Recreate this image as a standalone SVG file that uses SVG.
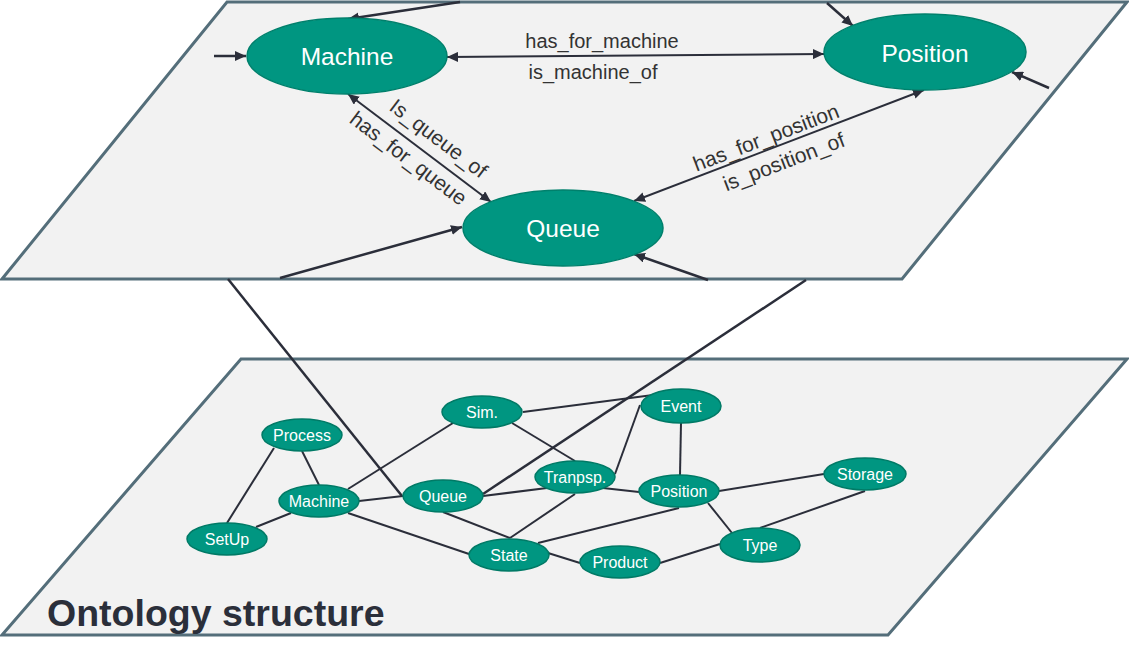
<svg xmlns="http://www.w3.org/2000/svg" width="1129" height="659" viewBox="0 0 1129 659">
<defs>
<style>
.plane{fill:#f2f2f2;stroke:#546e7a;stroke-width:3;stroke-linejoin:miter}
.big{fill:#009681;stroke:#00806c;stroke-width:1.5}
.small{fill:#009681;stroke:#007a66;stroke-width:1.5}
.bt{font-family:"Liberation Sans",Arial,sans-serif;font-size:24.5px;fill:#ffffff;text-anchor:middle}
.st{font-family:"Liberation Sans",Arial,sans-serif;font-size:16px;fill:#ffffff;text-anchor:middle}
.lbl{font-family:"Liberation Sans",Arial,sans-serif;font-size:20px;fill:#333333;text-anchor:middle}
.rl{font-size:21px}
.e{stroke:#2b2e3a;stroke-width:2;fill:none}
.a{stroke:#2b2e3a;stroke-width:2.5;fill:none;marker-end:url(#ah)}
.bi{stroke:#2b2e3a;stroke-width:2;fill:none;marker-start:url(#ah);marker-end:url(#ah)}
.x{stroke:#2b2e3a;stroke-width:2.5;fill:none}
.title{font-family:"Liberation Sans",Arial,sans-serif;font-size:37.5px;font-weight:bold;fill:#2b2f3a}
</style>
<marker id="ah" markerUnits="userSpaceOnUse" markerWidth="12" markerHeight="10" refX="11" refY="5" orient="auto-start-reverse">
<path d="M0,0 L11,5 L0,10 z" fill="#2b2e3a"/>
</marker>
</defs>

<g id="top-plane">
<polygon class="plane" points="227,2 1127,2 902,279 2,279"/>
</g>
<g id="bottom-plane">
<polygon class="plane" points="241,359 1127,359 888,635 2,635"/>
<text class="title" x="47" y="626">Ontology structure</text>
</g>

<g id="connectors">
<line class="x" x1="228" y1="279" x2="402" y2="496"/>
<line class="x" x1="806" y1="280" x2="483" y2="494"/>
<line class="e" x1="274" y1="448" x2="227" y2="523"/>
<line class="e" x1="302" y1="451" x2="319" y2="485"/>
<line class="e" x1="291" y1="513" x2="256" y2="527"/>
<line class="e" x1="348" y1="489" x2="453" y2="423"/>
<line class="e" x1="359" y1="501" x2="403" y2="496"/>
<line class="e" x1="348" y1="513" x2="469" y2="554"/>
<line class="e" x1="443" y1="512" x2="510" y2="538"/>
<line class="e" x1="483" y1="496" x2="547" y2="488"/>
<line class="e" x1="523" y1="412" x2="653" y2="395"/>
<line class="e" x1="512" y1="423" x2="575" y2="461"/>
<line class="e" x1="615" y1="474" x2="640" y2="405"/>
<line class="e" x1="603" y1="488" x2="639" y2="492"/>
<line class="e" x1="575" y1="494" x2="510" y2="538"/>
<line class="e" x1="681" y1="423" x2="680" y2="475"/>
<line class="e" x1="719" y1="491" x2="824" y2="474"/>
<line class="e" x1="679" y1="508" x2="538" y2="543"/>
<line class="e" x1="708" y1="503" x2="732" y2="533"/>
<line class="e" x1="760" y1="528" x2="865" y2="491"/>
<line class="e" x1="720" y1="544" x2="660" y2="563"/>
<line class="e" x1="548" y1="553" x2="580" y2="563"/>
<line class="a" x1="460" y1="2" x2="348" y2="19"/>
<line class="a" x1="214" y1="56" x2="246" y2="56"/>
<line class="a" x1="280" y1="278" x2="462" y2="227"/>
<line class="a" x1="827" y1="3" x2="853" y2="26"/>
<line class="a" x1="1049" y1="88" x2="1012" y2="72"/>
<line class="a" x1="708" y1="280" x2="634" y2="254"/>
<line class="bi" x1="447" y1="57" x2="824" y2="54"/>
<line class="bi" x1="348" y1="94" x2="491" y2="202"/>
<line class="bi" x1="634" y1="201" x2="924" y2="90"/>
</g>

<g id="edge-labels">
<text class="lbl" x="602" y="48">has_for_machine</text>
<text class="lbl" x="593" y="79">is_machine_of</text>
<g transform="translate(348,94) rotate(37.1)">
<text class="lbl rl" x="99" y="-12">Is_queue_of</text>
<text class="lbl rl" x="87" y="22">has_for_queue</text>
</g>
<g transform="translate(634,201) rotate(-20.9)">
<text class="lbl rl" x="146" y="-5">has_for_position</text>
<text class="lbl rl" x="154" y="24">is_position_of</text>
</g>
</g>

<g id="node-machine-top"><ellipse class="big" cx="347" cy="56" rx="100" ry="38"/><text class="bt" x="347" y="65">Machine</text></g>
<g id="node-position-top"><ellipse class="big" cx="925" cy="52" rx="101" ry="38"/><text class="bt" x="925" y="62">Position</text></g>
<g id="node-queue-top"><ellipse class="big" cx="563" cy="228" rx="100" ry="38"/><text class="bt" x="563" y="237">Queue</text></g>

<g id="node-process"><ellipse class="small" cx="302" cy="435" rx="40" ry="16"/><text class="st" x="302" y="441">Process</text></g>
<g id="node-machine"><ellipse class="small" cx="319" cy="501" rx="40" ry="16"/><text class="st" x="319" y="507">Machine</text></g>
<g id="node-setup"><ellipse class="small" cx="227" cy="539" rx="40" ry="16"/><text class="st" x="227" y="545">SetUp</text></g>
<g id="node-sim"><ellipse class="small" cx="482" cy="412" rx="40" ry="16"/><text class="st" x="482" y="418">Sim.</text></g>
<g id="node-queue"><ellipse class="small" cx="443" cy="496" rx="40" ry="16"/><text class="st" x="443" y="502">Queue</text></g>
<g id="node-state"><ellipse class="small" cx="509" cy="555" rx="40" ry="16"/><text class="st" x="509" y="561">State</text></g>
<g id="node-event"><ellipse class="small" cx="681" cy="406" rx="40" ry="17"/><text class="st" x="681" y="412">Event</text></g>
<g id="node-tranpsp"><ellipse class="small" cx="575" cy="477" rx="40" ry="16"/><text class="st" x="575" y="483">Tranpsp.</text></g>
<g id="node-position"><ellipse class="small" cx="679" cy="491" rx="40" ry="16"/><text class="st" x="679" y="497">Position</text></g>
<g id="node-storage"><ellipse class="small" cx="865" cy="474" rx="41" ry="16"/><text class="st" x="865" y="480">Storage</text></g>
<g id="node-type"><ellipse class="small" cx="760" cy="545" rx="40" ry="17"/><text class="st" x="760" y="551">Type</text></g>
<g id="node-product"><ellipse class="small" cx="620" cy="562" rx="40" ry="16"/><text class="st" x="620" y="568">Product</text></g>
</svg>
